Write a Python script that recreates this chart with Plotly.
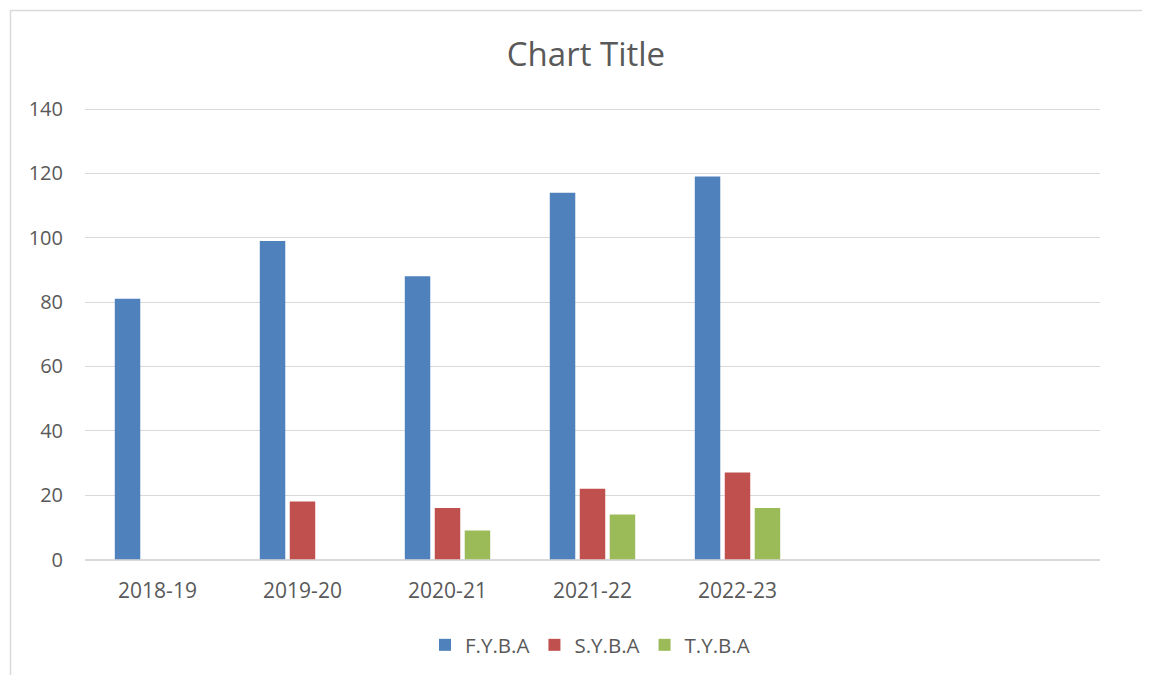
import plotly.graph_objects as go

categories = ["2018-19", "2019-20", "2020-21", "2021-22", "2022-23"]
fyba = [81, 99, 88, 114, 119]
syba = [0, 18, 16, 22, 27]
tyba = [0, 0, 9, 14, 16]
series_names = ["F.Y.B.A", "S.Y.B.A", "T.Y.B.A"]
colors = ["#4F81BD", "#C0504D", "#9BBB59"]

W, H = 1150, 675
OFF = 8  # page body margin offset
FONT = "Open Sans"
TXT = "#595959"


def px(x):
    return (x - OFF) / W


def py(y):
    return 1 - (y - OFF) / H


Y0, Y140 = 559.5, 109.0
ypp = (Y0 - Y140) / 140.0
YMAX = 140.4
ytop = Y0 - YMAX * ypp

fig = go.Figure()
for name, vals, c in zip(series_names, [fyba, syba, tyba], colors):
    fig.add_trace(go.Bar(x=categories, y=vals, name=name,
                         marker=dict(color=c, line=dict(width=0))))

fig.update_layout(
    width=W, height=H,
    margin=dict(l=0, r=0, t=0, b=0),
    paper_bgcolor="white", plot_bgcolor="white",
    barmode="group", bargap=0.38, bargroupgap=0.15,
    font=dict(family=FONT, color=TXT, size=20),
    title=dict(text="Chart Title", x=px(586), xanchor="center",
               y=py(54), yanchor="middle",
               font=dict(family=FONT, size=33, color=TXT)),
    xaxis=dict(domain=[px(85), px(1100)], type="category",
               categoryorder="array", categoryarray=categories,
               range=[-0.5, 6.5], showgrid=False, zeroline=False,
               showline=False, ticks="outside", ticklen=12,
               tickcolor="rgba(0,0,0,0)", tickfont=dict(size=21, color=TXT),
               automargin=False, fixedrange=True),
    yaxis=dict(domain=[py(Y0), py(ytop)], range=[0, YMAX],
               tickvals=[0, 20, 40, 60, 80, 100, 120, 140],
               showgrid=True, gridcolor="#D9D9D9", gridwidth=1.3,
               zeroline=True, zerolinecolor="#D9D9D9", zerolinewidth=1.5,
               showline=False, ticks="outside", ticklen=17,
               tickcolor="rgba(0,0,0,0)", tickfont=dict(size=20, color=TXT),
               automargin=False, fixedrange=True),
    legend=dict(orientation="h", x=px(590), xanchor="center",
                y=py(645), yanchor="middle",
                font=dict(size=20.5, color=TXT), itemwidth=30,
                bgcolor="rgba(0,0,0,0)"),
    showlegend=True,
    shapes=[dict(type="rect", xref="paper", yref="paper",
                 x0=px(10.5), x1=1.05, y0=-0.05, y1=py(10.5),
                 line=dict(color="#D9D9D9", width=1.5),
                 fillcolor="rgba(0,0,0,0)", layer="below")],
)

fig.write_html("out.html")
